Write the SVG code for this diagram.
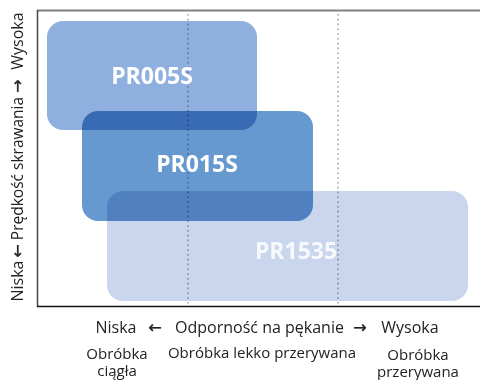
<svg xmlns="http://www.w3.org/2000/svg" width="480" height="380" viewBox="0 0 480 380">
<style>
.zone{mix-blend-mode:multiply}
.lbl{font-family:"Open Sans","Liberation Sans",sans-serif;font-weight:700;font-size:23px;fill:#ffffff;text-anchor:middle}
.ax{font-family:"Open Sans","Liberation Sans",sans-serif;font-size:15px;fill:#222222;text-anchor:middle}
.axb{font-family:"Open Sans","Liberation Sans",sans-serif;font-size:16px;fill:#222222;text-anchor:middle}
.arw{font-family:"DejaVu Sans",sans-serif;font-size:16px;fill:#222222;text-anchor:middle;stroke:#222222;stroke-width:0.4}
.grid{stroke:#a0a0a8;stroke-width:1.5;stroke-dasharray:1.6 3.2;fill:none}
</style>
<rect x="0" y="0" width="480" height="380" fill="#ffffff"/>
<g id="frame">
<line x1="37" y1="10.5" x2="480" y2="10.5" stroke="#808080" stroke-width="2"/>
<line x1="37.5" y1="10" x2="37.5" y2="307" stroke="#444444" stroke-width="1.5"/>
<line x1="37" y1="306.5" x2="480" y2="306.5" stroke="#111111" stroke-width="1.5"/>
</g>
<g id="gridlines">
<line class="grid" x1="188" y1="14" x2="188" y2="306"/>
<line class="grid" x1="338" y1="14" x2="338" y2="306"/>
</g>
<g id="node-pr005s">
<rect class="zone" x="47" y="21" width="210" height="109" rx="16" fill="#8fb0de"/>
</g>
<g id="node-pr015s">
<rect class="zone" x="82" y="111" width="231" height="110" rx="16" fill="#6699cf"/>
</g>
<g id="node-pr1535">
<rect class="zone" x="107" y="191" width="361" height="110" rx="16" fill="#c9d6ee"/>
</g>
<g id="labels">
<text class="lbl" x="152" y="84">PR005S</text>
<text class="lbl" x="197" y="172">PR015S</text>
<text class="lbl" x="296" y="259" fill-opacity="0.85">PR1535</text>
</g>
<g id="y-axis-label" transform="translate(23,0) rotate(-90)">
<text class="axb" x="-281" y="0">Niska</text>
<text class="arw" x="-251" y="0">←</text>
<text class="axb" x="-168.5" y="0" style="font-size:15.5px">Prędkość skrawania</text>
<text class="arw" x="-86" y="0">→</text>
<text class="axb" x="-41" y="0">Wysoka</text>
</g>
<g id="x-axis-label">
<text class="axb" x="116" y="333">Niska</text>
<text class="arw" x="155" y="333">←</text>
<text class="axb" x="259.5" y="333">Odporność na pękanie</text>
<text class="arw" x="360" y="333">→</text>
<text class="axb" x="410" y="333">Wysoka</text>
<text class="ax" x="117" y="359">Obróbka</text>
<text class="ax" x="117" y="376">ciągła</text>
<text class="ax" x="262" y="358">Obróbka lekko przerywana</text>
<text class="ax" x="418" y="360">Obróbka</text>
<text class="ax" x="418" y="377">przerywana</text>
</g>
</svg>
